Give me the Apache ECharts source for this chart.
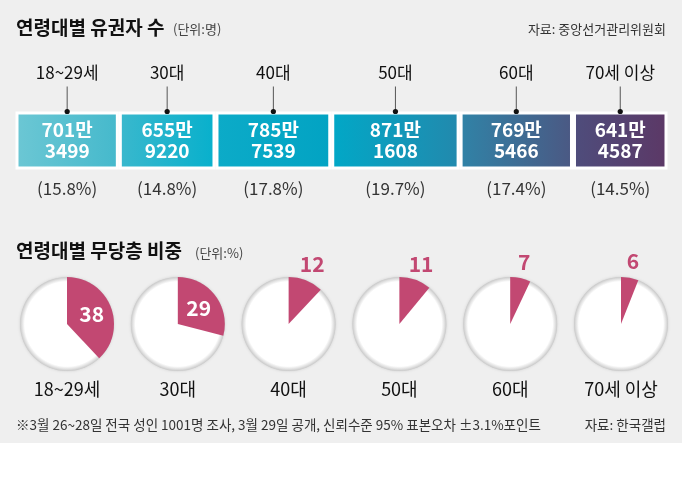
<!DOCTYPE html>
<html><head><meta charset="utf-8">
<script src="https://cdn.jsdelivr.net/npm/echarts@6/dist/echarts.min.js"></script>
<style>html,body{margin:0;padding:0;background:#fff}#c{width:682px;height:478px}</style>
</head><body><div id="c"></div>
<script>
// ---- data ----
const ageGroups = ['18~29세', '30대', '40대', '50대', '60대', '70세 이상'];
const voters = [7013499, 6559220, 7857539, 8711608, 7695466, 6414587];
const voterShare = [15.8, 14.8, 17.8, 19.7, 17.4, 14.5];
const independentShare = [38, 29, 12, 11, 7, 6];
const pieLabels = ['18~29세', '30대', '40대', '50대', '60대', '70세 이상'];

// ---- style ----
const FONT = '"Noto Sans CJK KR", "Noto Sans", sans-serif';
const PINK = '#c24872';
const segColors = [
  ['#6cc7d4', '#45b9cc'], ['#3ab8cd', '#07b0cc'], ['#0cabc8', '#02a3c3'],
  ['#01a8c7', '#2289ad'], ['#3083a7', '#4b5883'], ['#4e4d7c', '#5c3866']
];

const chart = echarts.init(document.getElementById('c'), null, { renderer: 'canvas' });
const total = voters.reduce((a, b) => a + b, 0);
const fmt = v => Math.floor(v / 10000) + '만\n' + String(v % 10000).padStart(4, '0');

const series = [];
voters.forEach((v, i) => {
  series.push({
    type: 'bar', stack: 'v', barWidth: '100%', data: [v], silent: true, animation: false,
    itemStyle: {
      color: new echarts.graphic.LinearGradient(0, 0, 1, 0, [
        { offset: 0, color: segColors[i][0] }, { offset: 1, color: segColors[i][1] }]),
      borderColor: '#fff', borderWidth: 3
    },
    label: {
      show: true, position: 'inside', formatter: () => fmt(v), color: '#fff',
      fontSize: 19, fontWeight: 'bold', lineHeight: 21, fontFamily: FONT
    }
  });
});

const centers = [];
let cum = 0;
voters.forEach(v => { centers.push(cum + v / 2); cum += v; });
series.push({
  type: 'custom', z: 5, silent: true, animation: false,
  data: centers.map((c, i) => [c, 0, i]),
  renderItem: (params, api) => {
    const p = api.coord([api.value(0), 0]);
    const i = api.value(2);
    const x = p[0], y = p[1];
    return {
      type: 'group', children: [
        { type: 'text', style: { x: x, y: y - 68, text: ageGroups[i], textAlign: 'center', textVerticalAlign: 'middle', fill: '#111', font: '17px ' + FONT } },
        { type: 'line', shape: { x1: x, y1: y - 54, x2: x, y2: y - 29 }, style: { stroke: '#555', lineWidth: 1 } },
        { type: 'circle', shape: { cx: x, cy: y - 29, r: 2.6 }, style: { fill: '#111' } },
        { type: 'text', style: { x: x, y: y + 48, text: '(' + voterShare[i].toFixed(1) + '%)', textAlign: 'center', textVerticalAlign: 'middle', fill: '#333', font: '17px ' + FONT } }
      ]
    };
  }
});

const pieY = 324;
independentShare.forEach((v, i) => {
  const cx = 67 + i * 110.8;
  series.push({
    type: 'pie', center: [cx, pieY], radius: 47, silent: true, animation: false,
    label: { show: false }, labelLine: { show: false },
    data: [{ value: 1, itemStyle: {
      color: new echarts.graphic.RadialGradient(0.5, 0.5, 0.5, [
        { offset: 0, color: '#ffffff' }, { offset: 0.9, color: '#ffffff' },
        { offset: 0.96, color: '#e0e0e0' }, { offset: 1, color: '#c9c9c9' }]),
      shadowBlur: 3, shadowColor: 'rgba(0,0,0,0.14)' } }]
  });
  series.push({
    type: 'pie', center: [cx, pieY], radius: 47, startAngle: 90, clockwise: true,
    silent: true, animation: false, label: { show: false }, labelLine: { show: false },
    data: [{ value: v, itemStyle: { color: PINK } }, { value: 100 - v, itemStyle: { color: 'rgba(0,0,0,0)' } }]
  });
  const inside = v >= 20;
  series.push({
    type: 'pie', center: [cx, pieY], radius: inside ? 47 : 122, startAngle: 90, clockwise: true,
    silent: true, animation: false, labelLine: { show: false },
    data: [
      { value: v, itemStyle: { color: 'rgba(0,0,0,0)' },
        label: { show: true, position: 'inside', formatter: String(v), color: inside ? '#fff' : PINK,
          fontSize: 21, fontWeight: 'bold', fontFamily: FONT } },
      { value: 100 - v, itemStyle: { color: 'rgba(0,0,0,0)' }, label: { show: false } }
    ]
  });
});

const graphics = [
  { type: 'rect', z: -10, shape: { x: 0, y: 0, width: 682, height: 443 }, style: { fill: '#efefef' } },
  { type: 'text', style: { x: 16, y: 28, text: '연령대별 유권자 수', textVerticalAlign: 'middle', fill: '#111', font: 'bold 19px ' + FONT } },
  { type: 'text', style: { x: 173, y: 29, text: '(단위:명)', textVerticalAlign: 'middle', fill: '#444', font: '13px ' + FONT } },
  { type: 'text', style: { x: 666, y: 29, text: '자료: 중앙선거관리위원회', textAlign: 'right', textVerticalAlign: 'middle', fill: '#333', font: '13px ' + FONT } },
  { type: 'text', style: { x: 16, y: 251, text: '연령대별 무당층 비중', textVerticalAlign: 'middle', fill: '#111', font: 'bold 19px ' + FONT } },
  { type: 'text', style: { x: 195, y: 253, text: '(단위:%)', textVerticalAlign: 'middle', fill: '#444', font: '13px ' + FONT } },
  { type: 'text', style: { x: 16, y: 425, text: '※3월 26~28일 전국 성인 1001명 조사, 3월 29일 공개, 신뢰수준 95% 표본오차 ±3.1%포인트', textVerticalAlign: 'middle', fill: '#333', font: '13.5px ' + FONT } },
  { type: 'text', style: { x: 666, y: 425, text: '자료: 한국갤럽', textAlign: 'right', textVerticalAlign: 'middle', fill: '#333', font: '13.5px ' + FONT } }
];
pieLabels.forEach((t, i) => {
  graphics.push({ type: 'text', style: { x: 67 + i * 110.8, y: 389, text: t, textAlign: 'center', textVerticalAlign: 'middle', fill: '#111', font: '18px ' + FONT } });
});

chart.setOption({
  backgroundColor: '#ffffff',
  animation: false,
  grid: { left: 15.5, right: 14.5, top: 111.5, height: 58 },
  xAxis: { type: 'value', min: 0, max: total, show: false },
  yAxis: { type: 'category', data: ['유권자'], show: false },
  graphic: graphics,
  series: series
});
</script>
</body></html>
